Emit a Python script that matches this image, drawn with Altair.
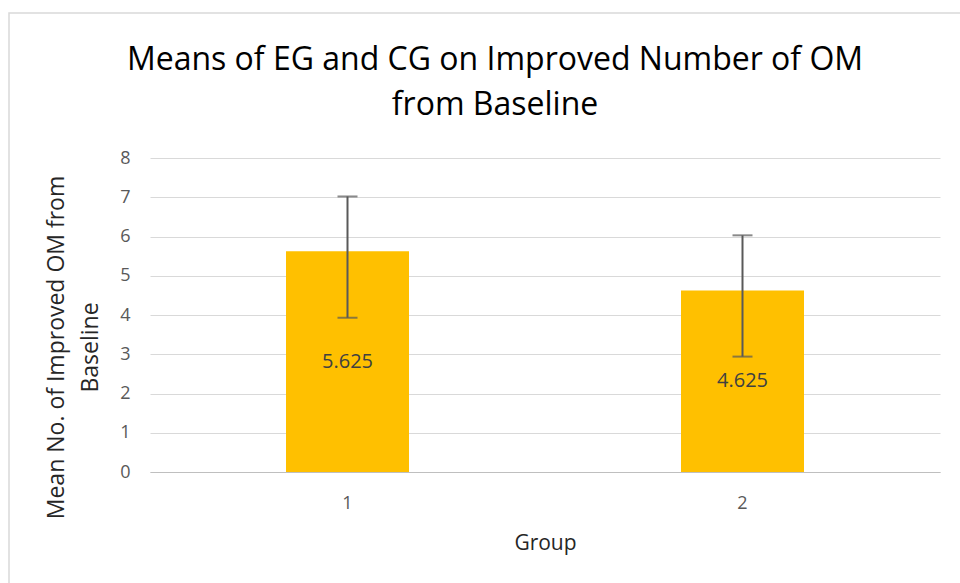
import altair as alt
import pandas as pd

groups = ["1", "2"]
means = [5.625, 4.625]
err_low = [3.93, 2.94]
err_high = [7.02, 6.03]
labels = ["5.625", "4.625"]

df = pd.DataFrame({
    "group": groups,
    "mean": means,
    "low": err_low,
    "high": err_high,
    "label": labels,
    "mid": [m / 2 for m in means],
})

FONT = "Open Sans"

x_axis = alt.Axis(labelAngle=0, ticks=False, labelPadding=22,
                  labelFontSize=18, labelColor="#595959",
                  domainColor="#bfbfbf", titleFontSize=21,
                  titleFontWeight="normal", titleColor="#262626",
                  titleY=71, titleBaseline="middle", grid=False)
x_scale = alt.Scale(paddingInner=0, paddingOuter=0)

y_axis = alt.Axis(values=list(range(0, 9)), ticks=False, domain=False,
                  labelPadding=20, labelFontSize=18, labelColor="#595959",
                  gridColor="#d9d9d9", titleFontSize=23,
                  titleFontWeight="normal", titleColor="#262626",
                  titleX=-82, titleY=189, titleLineHeight=34)
y_scale = alt.Scale(domain=[0, 8], nice=False)
y_title = ["Mean No. of  Improved OM from", "Baseline"]


def X():
    return alt.X("group:N", title="Group", scale=x_scale, axis=x_axis)


def Y(field):
    return alt.Y(field, title=y_title, scale=y_scale, axis=y_axis)


base = alt.Chart(df)

bars = base.mark_bar(color="#FFC000", width=123).encode(x=X(), y=Y("mean:Q"))

rules = base.mark_rule(color="#595959", strokeWidth=2).encode(
    x=X(), y=Y("low:Q"), y2="high:Q")
cap_hi = base.mark_tick(color="#595959", thickness=2, size=20, orient="horizontal").encode(
    x=X(), y=Y("high:Q"))
cap_lo = base.mark_tick(color="#595959", thickness=2, size=20, orient="horizontal").encode(
    x=X(), y=Y("low:Q"))

text = base.mark_text(fontSize=20, color="#404040", font=FONT, baseline="middle").encode(
    x=X(), y=Y("mid:Q"), text="label:N")

border = alt.Chart(pd.DataFrame({"a": [0]})).mark_rect(
    fill=None, stroke="#d9d9d9", strokeWidth=1.5).encode(
    x=alt.value(-141), x2=alt.value(850), y=alt.value(-145), y2=alt.value(500))

chart = alt.layer(border, bars, rules, cap_hi, cap_lo, text).properties(
    width=790, height=314,
    title=alt.TitleParams(
        ["Means of EG and CG on Improved Number of OM", "from Baseline"],
        fontSize=32, font=FONT, fontWeight="normal", color="#000000",
        anchor="middle", frame="group", dx=-50, offset=-110, lineHeight=45),
    padding={"left": 150, "top": 158, "right": 20, "bottom": 111},
    autosize=alt.AutoSizeParams(type="none"),
    background="white",
).configure(font=FONT).configure_view(stroke=None)

chart.save("out.html", embed_options={"renderer": "svg", "actions": False})
